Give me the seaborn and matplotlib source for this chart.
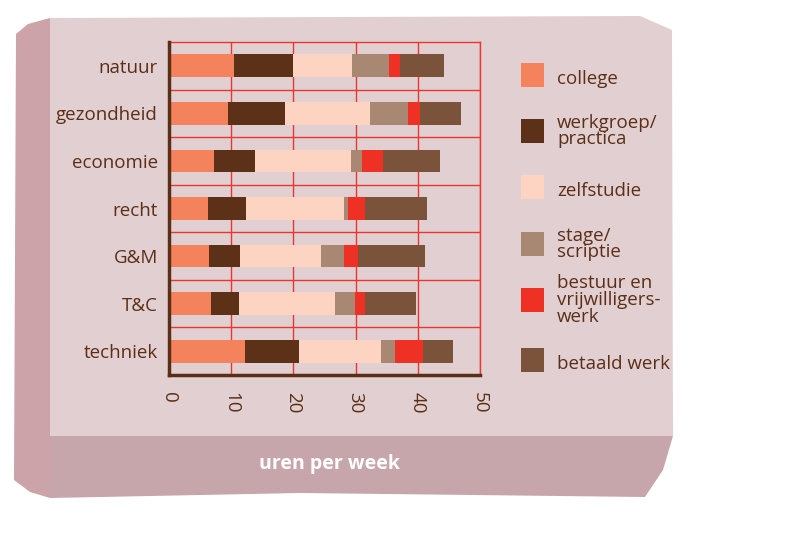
import matplotlib
matplotlib.use("Agg")
import matplotlib.pyplot as plt
from matplotlib.patches import Polygon, Rectangle
import numpy as np
import pandas as pd
import seaborn as sns

# Hours per week per study area
studies = ["natuur", "gezondheid", "economie", "recht", "G&M", "T&C", "techniek"]
college = [10.4, 9.5, 7.2, 6.3, 6.4, 6.7, 12.2]
werkgroep = [9.6, 9.1, 6.6, 6.1, 5.0, 4.5, 8.7]
zelfstudie = [9.5, 13.7, 15.4, 15.7, 13.0, 15.5, 13.2]
stage = [5.9, 6.1, 1.8, 0.7, 3.7, 3.2, 2.2]
bestuur = [1.8, 1.9, 3.4, 2.7, 2.3, 1.6, 4.5]
betaald = [7.0, 6.6, 9.1, 10.0, 10.7, 8.2, 4.8]

labels = ["college", "werkgroep/\npractica", "zelfstudie", "stage/\nscriptie",
          "bestuur en\nvrijwilligers-\nwerk", "betaald werk"]
colors = ["#f4825c", "#5c3118", "#fdd3c1", "#a88872", "#ee3124", "#7b523a"]
xticks = [0, 10, 20, 30, 40, 50]

BROWN = "#5a2f16"
GRID_RED = "#e8372c"
FS = 13.5

sns.set_theme(style="white")
plt.rcParams["font.family"] = ["Open Sans", "DejaVu Sans"]

series = [college, werkgroep, zelfstudie, stage, bestuur, betaald]
df = pd.DataFrame(dict(zip(labels, series)), index=studies)
cum = df.cumsum(axis=1)
cum["studie"] = studies

fig = plt.figure(figsize=(8.12, 5.33), dpi=100)
fig.patch.set_facecolor("white")

# stone block background (figure pixel coords -> fraction)
W, H = 812, 533


def poly(pts, color, z):
    p = Polygon([(x / W, 1 - y / H) for x, y in pts], closed=True,
                facecolor=color, edgecolor="none", transform=fig.transFigure, zorder=z)
    fig.add_artist(p)


poly([(16, 34), (28, 24), (50, 18), (50, 498), (30, 492), (14, 480)], "#cba3a8", -3)
poly([(50, 18), (640, 16), (672, 30), (673, 436), (50, 436)], "#e2cfd2", -3)
poly([(50, 436), (673, 436), (663, 470), (645, 497), (300, 493), (50, 498)], "#c6a6ab", -3)

ax = fig.add_axes([169 / W, 1 - 375 / H, 311 / W, 333 / H])
ax.set_facecolor("none")

# stacked bars: draw cumulative totals from the outermost segment inward
for lab, col in reversed(list(zip(labels, colors))):
    sns.barplot(data=cum, x=lab, y="studie", color=col, orient="h", width=0.48,
                saturation=1, edgecolor="none", linewidth=0, ax=ax, zorder=3)

ax.set_xlim(0, 50)
ax.set_ylim(len(studies) - 0.5, -0.5)
ax.set_xticks(xticks)
ax.set_xticklabels([str(t) for t in xticks], rotation=-90, color=BROWN, fontsize=FS)
ax.set_yticks(range(len(studies)))
ax.set_yticklabels(studies, color=BROWN, fontsize=FS)
ax.set_yticks(np.arange(0.5, len(studies) - 1, 1), minor=True)
ax.tick_params(axis="x", length=0, pad=12)
ax.tick_params(axis="y", which="both", length=0, pad=8)
ax.set_xlabel("")
ax.set_ylabel("")

ax.grid(False)
ax.xaxis.grid(True, color=GRID_RED, linewidth=1.0)
ax.yaxis.grid(True, which="minor", color=GRID_RED, linewidth=1.0)
ax.set_axisbelow(True)

for side in ["top", "right"]:
    ax.spines[side].set_color(GRID_RED)
    ax.spines[side].set_linewidth(1.0)
for side in ["left", "bottom"]:
    ax.spines[side].set_color(BROWN)
    ax.spines[side].set_linewidth(2.5)
    ax.spines[side].set_zorder(5)

# legend, drawn by hand to keep the multi-line labels beside their swatches
legend_y = [75, 131, 187, 244, 300, 360]
for lab, col, yc in zip(labels, colors, legend_y):
    fig.add_artist(Rectangle((521 / W, 1 - (yc + 12) / H), 23 / W, 24 / H,
                             facecolor=col, edgecolor="none", transform=fig.transFigure))
    if "\n" in lab:
        fig.text(557 / W, 1 - yc / H, lab, color=BROWN, fontsize=FS, va="center",
                 ha="left", linespacing=0.9)
    else:
        fig.text(557 / W, 1 - (yc + 13) / H, lab, color=BROWN, fontsize=FS,
                 va="bottom", ha="left")

fig.text(330 / W, 1 - 464 / H, "uren per week", color="white", fontsize=14,
         fontweight="bold", ha="center", va="center")

fig.savefig("out.png", dpi=100)
